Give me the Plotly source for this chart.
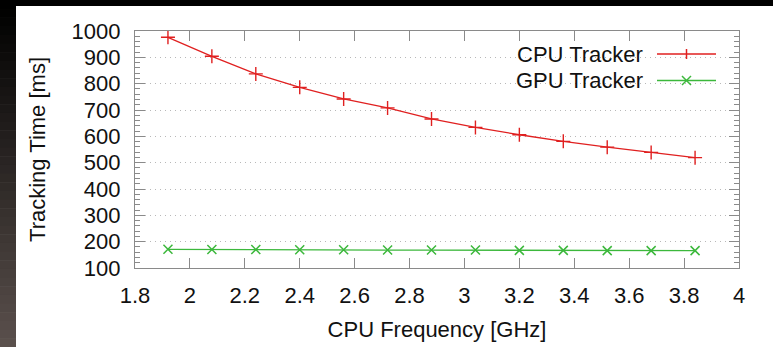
import plotly.graph_objects as go

# ---- data ----
freq_ghz = [1.92, 2.08, 2.24, 2.40, 2.56, 2.72, 2.88, 3.04, 3.20, 3.36, 3.52, 3.68, 3.84]
cpu_ms = [976, 904, 837, 786, 742, 708, 666, 634, 606, 581, 559, 539, 519]
gpu_ms = [171, 170, 170, 169, 169, 168, 168, 168, 167, 167, 166, 166, 166]
series_names = ["CPU Tracker", "GPU Tracker"]
x_ticks = [1.8, 2.0, 2.2, 2.4, 2.6, 2.8, 3.0, 3.2, 3.4, 3.6, 3.8, 4.0]
x_tick_labels = ["1.8", "2", "2.2", "2.4", "2.6", "2.8", "3", "3.2", "3.4", "3.6", "3.8", "4"]
y_ticks = list(range(100, 1001, 100))

RED = "#e02020"
GREEN = "#3cb83c"
FONT = "Liberation Sans, Arial, sans-serif"
FS = 22
W, H = 773, 347
L, R, T, B = 135, 34, 31, 79
PW, PH = W - L - R, H - T - B


def px(x):
    return (x - L) / PW


def py(y):
    return (H - B - y) / PH


fig = go.Figure()
fig.add_trace(go.Scatter(
    x=freq_ghz, y=cpu_ms, mode="lines+markers", name=series_names[0],
    line=dict(color=RED, width=1.3),
    marker=dict(symbol="cross-thin", size=10, line=dict(color=RED, width=1.4)),
    showlegend=False))
fig.add_trace(go.Scatter(
    x=freq_ghz, y=gpu_ms, mode="lines+markers", name=series_names[1],
    line=dict(color=GREEN, width=1.3),
    marker=dict(symbol="x-thin", size=9, line=dict(color=GREEN, width=1.5)),
    showlegend=False))

shapes = []
# dark frame decoration: top band and left gradient strip
shapes.append(dict(type="rect", xref="paper", yref="paper", x0=px(0), x1=px(W), y0=py(0), y1=py(6),
                   fillcolor="black", line=dict(width=0), layer="below"))
n = 40
for i in range(n):
    t = i / (n - 1)
    c = (int(0 + 90 * t), int(0 + 80 * t), int(0 + 76 * t))
    y0 = H * i / n
    y1 = H * (i + 1) / n + 0.6
    shapes.append(dict(type="rect", xref="paper", yref="paper", x0=px(0), x1=px(16), y0=py(y0), y1=py(y1),
                       fillcolor="rgb(%d,%d,%d)" % c, line=dict(width=0), layer="below"))

# manual legend (gnuplot style: text then sample)
leg_rows = [(54, RED, "plus"), (80.5, GREEN, "x")]
annotations = []
for (yy, col, kind), name in zip(leg_rows, series_names):
    annotations.append(dict(xref="paper", yref="paper", x=px(645), y=py(yy), xanchor="right", yanchor="middle",
                            text=name, showarrow=False, font=dict(family=FONT, size=FS, color="#111")))
    shapes.append(dict(type="line", xref="paper", yref="paper", x0=px(657), x1=px(716), y0=py(yy), y1=py(yy),
                       line=dict(color=col, width=1.3)))
    cx = 686.5
    if kind == "plus":
        shapes.append(dict(type="line", xref="paper", yref="paper", x0=px(cx), x1=px(cx), y0=py(yy - 5), y1=py(yy + 5),
                           line=dict(color=col, width=1.5)))
    else:
        shapes.append(dict(type="line", xref="paper", yref="paper", x0=px(cx - 4.5), x1=px(cx + 4.5), y0=py(yy - 4.5), y1=py(yy + 4.5),
                           line=dict(color=col, width=1.5)))
        shapes.append(dict(type="line", xref="paper", yref="paper", x0=px(cx - 4.5), x1=px(cx + 4.5), y0=py(yy + 4.5), y1=py(yy - 4.5),
                           line=dict(color=col, width=1.5)))

fig.update_layout(
    width=W, height=H,
    margin=dict(l=L, r=R, t=T, b=B, pad=0, autoexpand=False),
    paper_bgcolor="white", plot_bgcolor="white",
    font=dict(family=FONT, size=FS, color="#111"),
    shapes=shapes, annotations=annotations,
    showlegend=False,
)
fig.update_xaxes(
    automargin=False,
    range=[1.8, 4.0], tickvals=x_ticks, ticktext=x_tick_labels,
    showgrid=False, zeroline=False,
    showline=True, linecolor="#8a8a8a", linewidth=1.2, mirror="ticks",
    ticks="inside", ticklen=10, tickcolor="#8a8a8a", tickwidth=1.2,
    ticklabelstandoff=7,
    tickfont=dict(family=FONT, size=FS, color="#111"),
    title=dict(text="CPU Frequency [GHz]", standoff=15, font=dict(family=FONT, size=FS, color="#111")),
)
fig.update_yaxes(
    automargin=False,
    range=[100, 1000], tickvals=y_ticks,
    showgrid=True, gridcolor="#b8b8b8", gridwidth=1, griddash="1px,4px",
    zeroline=False,
    showline=True, linecolor="#8a8a8a", linewidth=1.2, mirror="ticks",
    ticks="inside", ticklen=10, tickcolor="#8a8a8a", tickwidth=1.2,
    minor=dict(dtick=20, ticks="inside", ticklen=5, tickcolor="#8a8a8a", tickwidth=1, showgrid=False),
    ticklabelstandoff=9,
    tickfont=dict(family=FONT, size=FS, color="#111"),
    title=dict(text="Tracking Time [ms]", standoff=19, font=dict(family=FONT, size=FS, color="#111")),
)

fig.write_html("out.html")
